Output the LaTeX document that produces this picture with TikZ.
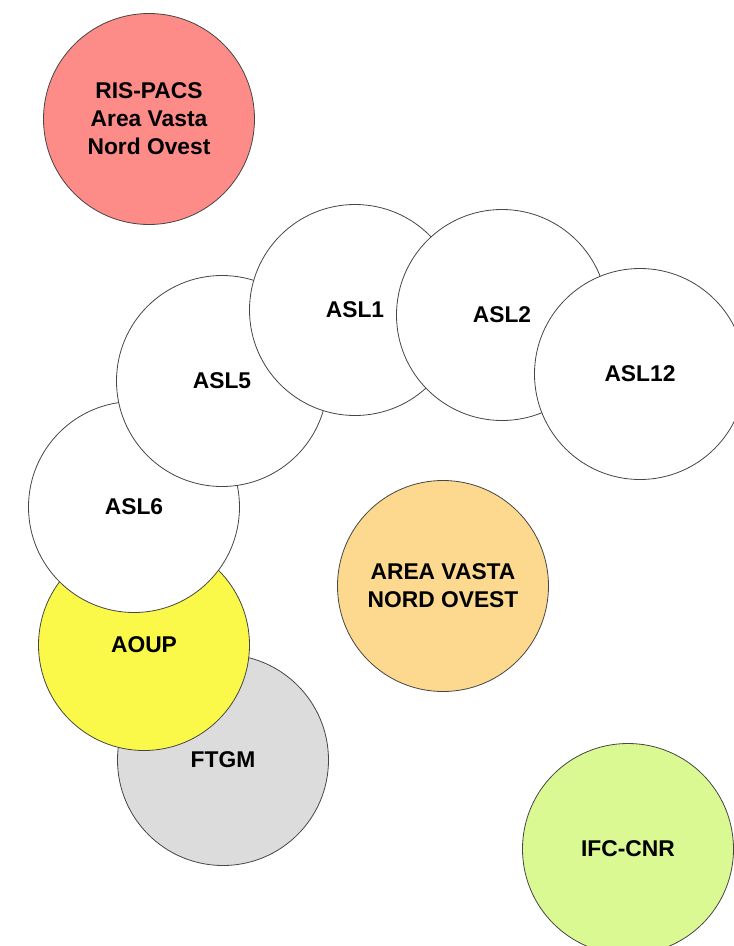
\documentclass[tikz,border=0pt]{standalone}
\usepackage{fontspec}
\setmainfont{Liberation Sans}
\definecolor{cred}{RGB}{253,139,136}
\definecolor{cyel}{RGB}{250,248,72}
\definecolor{cgray}{RGB}{220,220,220}
\definecolor{corange}{RGB}{253,216,143}
\definecolor{cgreen}{RGB}{218,249,147}
\definecolor{cline}{RGB}{70,70,70}
\begin{document}
\begin{tikzpicture}[x=1pt,y=-1pt,
  blob/.style={circle,draw=cline,line width=0.8pt,minimum size=211pt,inner sep=0pt,
    align=center,font=\fontsize{22.8}{28}\selectfont\bfseries,fill=white}]
\useasboundingbox (0,0) rectangle (734,946);
\node[blob,fill=cred] (ris) at (149,119) {RIS-PACS\\Area Vasta\\Nord Ovest};
\node[blob,fill=cgray] (ftgm) at (223,760) {FTGM};
\node[blob,fill=cyel] (aoup) at (144,645) {AOUP};
\node[blob] (asl6) at (134,507) {ASL6};
\node[blob] (asl5) at (222,381) {ASL5};
\node[blob] (asl1) at (355,310) {ASL1};
\node[blob] (asl2) at (502,315) {ASL2};
\node[blob] (asl12) at (640,374) {ASL12};
\node[blob,fill=corange] (av) at (443,586) {AREA VASTA\\NORD OVEST};
\node[blob,fill=cgreen] (ifc) at (628,849) {IFC-CNR};
\end{tikzpicture}
\end{document}
